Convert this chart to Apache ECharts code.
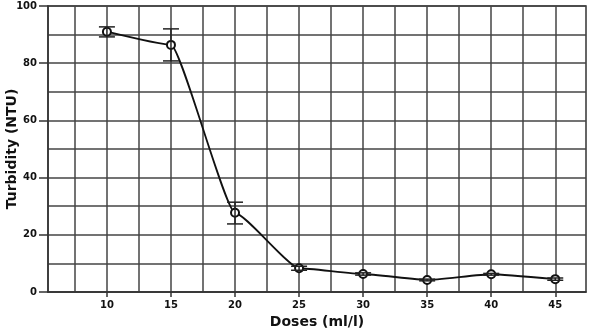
<!DOCTYPE html>
<html>
<head>
<meta charset="utf-8">
<script src="https://cdn.jsdelivr.net/npm/echarts@6/dist/echarts.min.js"></script>
<style>
html, body { margin: 0; padding: 0; background: #fff; }
#chart { width: 589px; height: 330px; }
</style>
</head>
<body>
<div id="chart"></div>
<script>
// values
const doses = [10, 15, 20, 25, 30, 35, 40, 45];
const turbidity = [91, 86.4, 27.7, 8.3, 6.3, 4.2, 6.2, 4.5];
const errLow = [89.2, 80.8, 23.8, 7.6, 5.9, 3.9, 5.9, 4.1];
const errHigh = [92.7, 92.0, 31.4, 9.0, 6.7, 4.5, 6.5, 4.9];
const xTicks = [10, 15, 20, 25, 30, 35, 40, 45];
const xGridLines = [7.5, 10, 12.5, 15, 17.5, 20, 22.5, 25, 27.5, 30, 32.5, 35, 37.5, 40, 42.5, 45];

const font = 'DejaVu Sans';
const lineColor = '#444';

const chart = echarts.init(document.getElementById('chart'));

const option = {
    animation: false,
    grid: {
        left: 48, right: 3, top: 6, bottom: 38,
        containLabel: false, outerBoundsMode: 'none',
        show: true, borderColor: '#333', borderWidth: 1.5
    },
    xAxis: [
        {
            type: 'value', min: 5.4, max: 47.4, position: 'bottom',
            name: 'Doses (ml/l)', nameLocation: 'middle', nameGap: 22,
            nameTextStyle: { fontFamily: font, fontWeight: 'bold', fontSize: 14, color: '#111' },
            axisLine: { show: true, lineStyle: { color: '#333', width: 1.5 } },
            axisTick: { show: true, length: 5, customValues: xTicks, lineStyle: { color: '#333', width: 1.5 } },
            axisLabel: { customValues: xTicks, margin: 8, fontFamily: font, fontWeight: 'bold', fontSize: 10, color: '#111' },
            splitLine: { show: false }
        },
        {
            type: 'value', min: 5.4, max: 47.4, position: 'bottom',
            axisLine: { show: false },
            axisTick: { show: false, customValues: xGridLines },
            axisLabel: { show: false, customValues: xGridLines },
            splitLine: { show: true, lineStyle: { color: lineColor, width: 1.5 } }
        }
    ],
    yAxis: [
        {
            type: 'value', min: 0, max: 100, interval: 20, position: 'left',
            name: 'Turbidity (NTU)', nameLocation: 'middle', nameGap: 29,
            nameMoveOverlap: false,
            nameTextStyle: { fontFamily: font, fontWeight: 'bold', fontSize: 14, color: '#111' },
            axisLine: { show: true, lineStyle: { color: '#333', width: 1.5 } },
            axisTick: { show: true, length: 9, lineStyle: { color: '#333', width: 1.5 } },
            axisLabel: { margin: 11, fontFamily: font, fontWeight: 'bold', fontSize: 10, color: '#111' },
            splitLine: { show: false }
        },
        {
            type: 'value', min: 0, max: 100, interval: 10, position: 'left',
            axisLine: { show: false },
            axisTick: { show: false },
            axisLabel: { show: false },
            splitLine: { show: true, lineStyle: { color: lineColor, width: 1.5 } }
        }
    ],
    series: [
        {
            type: 'line',
            data: doses.map((d, i) => [d, turbidity[i]]),
            smooth: 0.15,
            smoothMonotone: 'x',
            symbol: 'emptyCircle',
            symbolSize: 8,
            itemStyle: { color: '#111', borderWidth: 1.2 },
            lineStyle: { color: '#111', width: 1.8 },
            z: 3
        },
        {
            type: 'custom',
            data: doses.map((d, i) => [d, errLow[i], errHigh[i]]),
            renderItem: function (params, api) {
                const lo = api.coord([api.value(0), api.value(1)]);
                const hi = api.coord([api.value(0), api.value(2)]);
                const w = 8;
                const style = { stroke: '#222', lineWidth: 1.5 };
                return {
                    type: 'group',
                    children: [
                        { type: 'line', shape: { x1: lo[0], y1: lo[1], x2: hi[0], y2: hi[1] }, style: style },
                        { type: 'line', shape: { x1: lo[0] - w, y1: lo[1], x2: lo[0] + w, y2: lo[1] }, style: style },
                        { type: 'line', shape: { x1: hi[0] - w, y1: hi[1], x2: hi[0] + w, y2: hi[1] }, style: style }
                    ]
                };
            },
            z: 4
        }
    ]
};

chart.setOption(option);
</script>
</body>
</html>
